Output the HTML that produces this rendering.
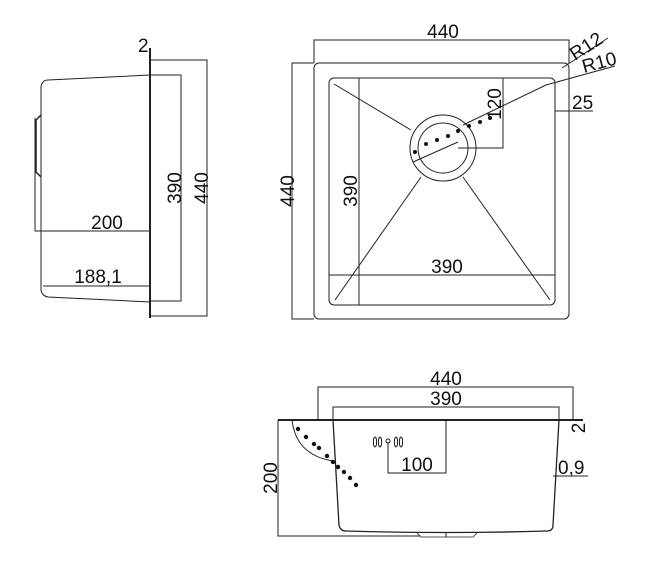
<!DOCTYPE html>
<html><head><meta charset="utf-8"><style>
html,body{margin:0;padding:0;background:#fff;}
svg{display:block;}
text{font-family:"Liberation Sans",Arial,sans-serif;font-size:19px;fill:#111;}
</style></head><body>
<svg width="646" height="576" viewBox="0 0 646 576" xmlns="http://www.w3.org/2000/svg">
<g fill="none" stroke="#222" stroke-width="1">
<!-- LEFT VIEW -->
<line x1="150" y1="48" x2="150" y2="318" stroke-width="2"/>
<polyline points="150,60 207,60 207,316 150,316"/>
<polyline points="150,75 181,75 181,301 150,301"/>
<path d="M150,75 L48,80 Q42,80 41,87 L41,290 Q42,296 48,297 L150,302"/>
<path d="M41,115 L36,120 L36,172 L41,177" stroke-width="1.5"/>
<polyline points="35,118 35,231 150,231"/>
<line x1="43" y1="286" x2="150" y2="286"/>
<!-- TOP VIEW -->
<rect x="314" y="63" width="255" height="256" rx="5"/>
<rect x="329" y="78" width="226" height="227" rx="5"/>
<polyline points="314,63 314,40 569,40 569,63"/>
<polyline points="314,63 292,63 292,319 314,319"/>
<line x1="359" y1="78" x2="359" y2="305"/>
<line x1="329" y1="275" x2="555" y2="275"/>
<polyline points="475,78 503,78 503,148 458,148"/>
<circle cx="443" cy="148" r="33"/>
<circle cx="443" cy="148" r="25"/>
<line x1="334" y1="84" x2="411" y2="130"/>
<line x1="335" y1="300" x2="421" y2="177"/>
<line x1="550" y1="300" x2="463" y2="177"/>
<line x1="413" y1="162" x2="458" y2="142"/>
<polyline points="463,125 546,85 615,66"/>
<line x1="562" y1="68" x2="608" y2="38"/>
<line x1="555" y1="111" x2="593" y2="111"/>
<!-- BOTTOM VIEW -->
<line x1="278" y1="420" x2="583" y2="420" stroke-width="2"/>
<polyline points="318,420 318,387 573,387 573,420"/>
<polyline points="333,420 333,407 559,407 559,420"/>
<path d="M333,420 L339,525 Q340,531 346,531 Q446,534 547,531 Q553,531 553,525 L559,420" stroke-width="1.3"/>
<path d="M417,533 L421,537 L473,537 L477,533" stroke="#555"/>
<line x1="446" y1="533" x2="446" y2="537"/>
<polyline points="278,420 278,536 420,536"/>
<path d="M292,420 Q296,455 333,461"/>
<polyline points="446,420 446,473 388,473 388,442"/>
<line x1="553" y1="476" x2="588" y2="476"/>
<ellipse cx="375" cy="442" rx="1.6" ry="5"/><ellipse cx="380" cy="442" rx="1.6" ry="5"/>
<circle cx="388" cy="441" r="2"/>
<ellipse cx="396" cy="442" rx="1.6" ry="5"/><ellipse cx="401" cy="442" rx="1.6" ry="5"/>
</g>
<g fill="#111">
<circle cx="426" cy="144" r="2"/><circle cx="415" cy="152" r="2"/><circle cx="437" cy="140" r="2"/><circle cx="448" cy="136" r="2"/><circle cx="458" cy="131" r="2"/><circle cx="469" cy="126" r="2"/><circle cx="480" cy="122" r="2"/><circle cx="490" cy="118" r="2"/>
<circle cx="298" cy="429" r="2.2"/><circle cx="306" cy="437" r="2.2"/><circle cx="314" cy="444" r="2.2"/><circle cx="319" cy="448" r="2.2"/><circle cx="327" cy="456" r="2.2"/><circle cx="333" cy="462" r="2.2"/><circle cx="338" cy="467" r="2.2"/><circle cx="344" cy="472" r="2.2"/><circle cx="350" cy="478" r="2.2"/><circle cx="356" cy="485" r="2.2"/>
</g>
<!-- texts -->
<text x="138" y="52">2</text>
<text transform="translate(181,188) rotate(-90)" text-anchor="middle">390</text>
<text transform="translate(208,188) rotate(-90)" text-anchor="middle">440</text>
<text x="107" y="229" text-anchor="middle">200</text>
<text x="98" y="283" text-anchor="middle">188,1</text>
<text x="443" y="38" text-anchor="middle">440</text>
<text transform="translate(294,191) rotate(-90)" text-anchor="middle">440</text>
<text transform="translate(357,191) rotate(-90)" text-anchor="middle">390</text>
<text x="447" y="273" text-anchor="middle">390</text>
<text transform="translate(501,104) rotate(-90)" text-anchor="middle">120</text>
<text transform="translate(575,61) rotate(-33)">R12</text>
<text transform="translate(584,73) rotate(-15)">R10</text>
<text x="572" y="109">25</text>
<text x="446" y="385" text-anchor="middle">440</text>
<text x="446" y="405" text-anchor="middle">390</text>
<text transform="translate(277,478) rotate(-90)" text-anchor="middle">200</text>
<text x="417" y="471" text-anchor="middle">100</text>
<text x="558" y="474">0,9</text>
<text transform="translate(585,428) rotate(-90)" text-anchor="middle">2</text>
</svg>
</body></html>
